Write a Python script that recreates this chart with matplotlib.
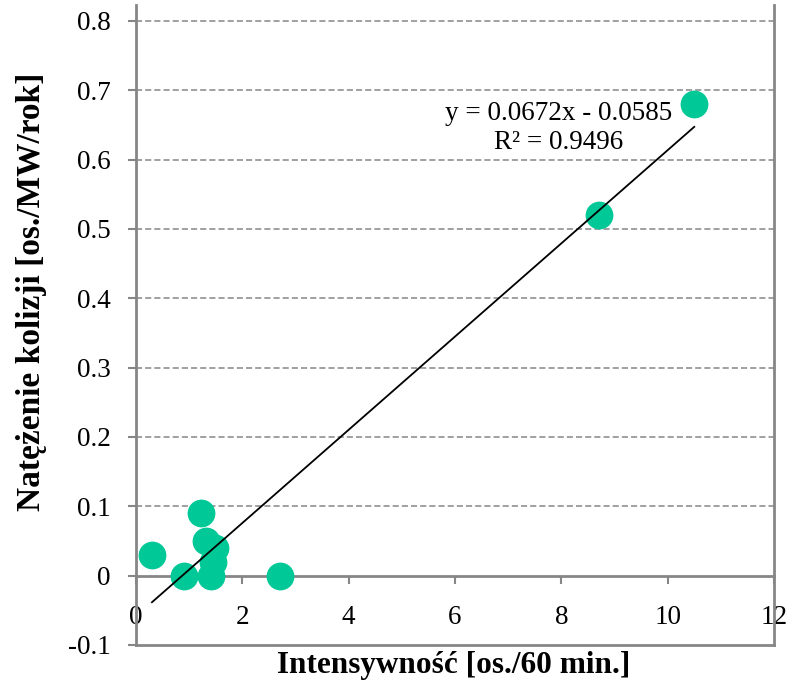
import numpy as np
import matplotlib.pyplot as plt

# dane pomiarowe
intensywnosc = [0.3, 0.9, 1.23, 1.32, 1.48, 1.45, 1.42, 2.7, 8.7, 10.5]
natezenie = [0.03, 0.0, 0.09, 0.05, 0.04, 0.02, 0.0, 0.0, 0.52, 0.68]

# linia trendu
a = 0.0672
b = -0.0585
r2 = 0.9496

x_ticks = [0, 2, 4, 6, 8, 10, 12]
y_ticks = [-0.1, 0, 0.1, 0.2, 0.3, 0.4, 0.5, 0.6, 0.7, 0.8]
y_labels = ["-0.1", "0", "0.1", "0.2", "0.3", "0.4", "0.5", "0.6", "0.7", "0.8"]

plt.rcParams['font.family'] = ['Liberation Serif', 'DejaVu Serif']
szary = '#868686'

fig = plt.figure(figsize=(7.91, 6.86), dpi=100)
ax = fig.add_axes([136/791, 1 - 645/686, (774 - 136)/791, (645 - 5)/686])

ax.set_xlim(0, 12)
ax.set_ylim(-0.1, 0.8228)

for yy in y_ticks[2:]:
    ax.axhline(yy, color=szary, lw=1.1, ls=(0, (4, 2)), zorder=1)
ax.axhline(-0.1, color=szary, lw=2, clip_on=False, zorder=2)

ax.scatter(intensywnosc, natezenie, s=400, color='#00C896', linewidths=0, zorder=3)

xt = np.array([min(intensywnosc), max(intensywnosc)])
ax.plot(xt, a * xt + b, color='black', lw=1.3, zorder=4)

ax.text(7.95, 0.6455, f"y = {a}x - {abs(b)}\nR² = {r2}", ha='center', va='center',
        fontsize=19.5, linespacing=1.25, zorder=5)

ax.spines['top'].set_visible(False)
ax.spines['bottom'].set_position(('data', 0))
for s in ['left', 'right', 'bottom']:
    ax.spines[s].set_color(szary)
    ax.spines[s].set_linewidth(2)

ax.set_xticks(x_ticks)
ax.set_xticklabels([str(v) for v in x_ticks])
ax.set_yticks(y_ticks)
ax.set_yticklabels(y_labels)
ax.tick_params(axis='x', direction='out', length=6, width=1.5, color=szary, pad=15, labelsize=19.5)
ax.tick_params(axis='y', direction='out', length=6, width=1.5, color=szary, pad=12, labelsize=19.5)

fig.text(454/791, 1 - 665/686, "Intensywność [os./60 min.]", ha='center', va='center',
         fontsize=22.5, fontweight='bold')
fig.text(32/791, 1 - 292/686, "Natężenie kolizji [os./MW/rok]", ha='center', va='center',
         rotation=90, fontsize=24, fontweight='bold')

fig.savefig('out.png', dpi=100)
